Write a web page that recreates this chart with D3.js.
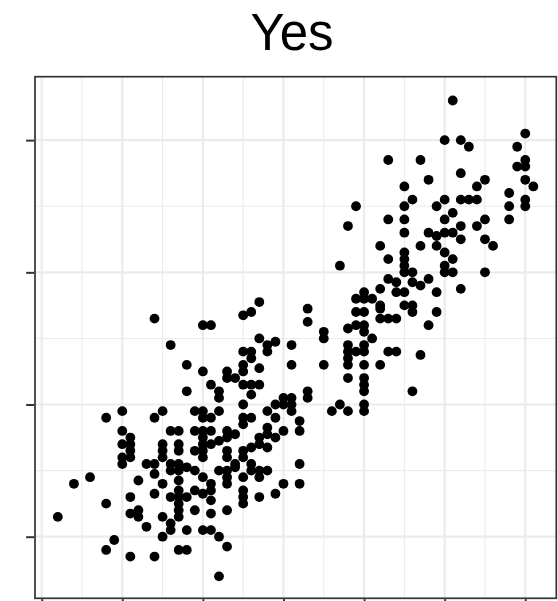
<!DOCTYPE html>
<html>
<head>
<meta charset="utf-8">
<script src="https://cdn.jsdelivr.net/npm/d3@7"></script>
<style>
  html, body { margin: 0; padding: 0; background: #ffffff; }
  svg { display: block; }
</style>
</head>
<body>
<div id="chart"></div>
<script>
// Facet panel title
const panelTitle = "Yes";

// Point coordinates (x, y pairs in the same order)
const xValues = [
  10,8,14,15,19,10,11,10,11,11, 10,11,10,13,14,14,12,15,4,6,
  8,2,11,14,11,12,12,13,15,15, 9,8,11,14,17,18,16,16,18,19,
  16,17,19,15,15,15,17,17,19,16, 17,18,16,17,19,17,17,19,16,17,
  18,17,17,17,
  20,22,28,31,20,21,25,26,25,29, 32,32,28,28,27,27,29,30,28,26,
  25,25,20,21,20,20,21,22,23,23, 24,20,20,23,23,22,23,23,23,24,
  24,26,26,27,28,27,25,32,30,32, 29,27,25,25,25,20,21,21,20,21,
  21,23,20,21,22,23,22,36,38,37, 40,40,
  14,20,21,25,26,27,33,33,16,27, 28,29,28,31,25,26,26,18,25,25,
  27,31,20,23,23,24,21,22,22,18, 25,26,27,26,25,29,30,31,31,33,
  33,30,35,35,35,
  45,48,49,42,47,49,43,45,45,45, 45,37,46,43,44,46,47,48,49,42,
  44,45,40,39,40,41,42,42,45,46, 46,39,40,42,43,44,48,49,38,39,
  40,40,41,38,38,39,40,40,43,44, 47,38,38,40,42,38,40,40,40,46,
  51,50,52,53,43,47,52,48,45,46, 50,52,53,54,39,45,49,51,38,43,
  45,50,52,50,51,52,60,59,60,59, 60,55,54,60,61,58,60,60,58,58,
  55,54,55,56,50,51,50,50,51,55, 52
];
const yValues = [
  19,18,18,19,19,16,15,14,14,13, 12,12,11,11,11,9.5,8.5,8,8,9,
  5,3,6,6.5,3.5,4,3,1.5,3,0, -0.5,-2,-3,-3,-2,-2,2,1,1,4,
  16,16,16,14,13,12,14,13,13,11, 11,10.5,10,10,10,8.5,7,7,6,6,
  6,5,4,3,
  19,19,19,19,18,18,18,18,17,18, 17.5,16,16.5,15.5,15,14,15,16,13.5,13.5,
  13,12,16,16,15,14,14,14.5,16,15, 15.5,13,12,13,12,10,10,9,8,10.5,
  11,11,10,10,10,9,9,11,8,8, 6.5,6,7,6,5,9,8,7,6.5,5.5,
  3.5,4,1,1,0,-1.5,-6,19,19,20, 20,19,
  33,32,32,33.5,34,35.5,34.5,32.5,29,30, 29,29.5,28,29,28,28,27,26,26,25,
  25.5,26,25,25,24,24,23,22,21,22, 23,23,23,21.5,20,20,21,21,20,22,
  21,20,31,30,26,
  46,46,45.5,44,44,44,42,43,42,41, 40,41,40,39,38.5,38.5,38,39,37,37.5,
  37,37,37,36,36,36,35,34.5,35,35, 34,34,34,33,33,33,32,34,31.5,32,
  32,31,30,29,28,28,29,28,28,28, 27.5,27,26,26,26,24,24,23,22,22,
  66,60,60,59,57,57,55,54,53,51, 51,51,51,51,50,50,50,49,47,48,
  48,48,47,46,46,45,61,59,57,56, 56,54,53,54,53,52,51,50,50,48,
  48,47,45,44,43,42,41,40,40,40, 37.5
];

// Axis breaks (tick labels are blank in this panel)
const xMajorTicks = [0, 10, 20, 30, 40, 50, 60];
const xMinorTicks = [5, 15, 25, 35, 45, 55];
const yMajorTicks = [0, 20, 40, 60];
const yMinorTicks = [10, 30, 50];

const points = xValues.map((x, i) => ({ x, y: yValues[i] }));

const width = 558, height = 601;
const panel = { left: 35, right: 556.3, top: 76.7, bottom: 598.3 };

const svg = d3.select("#chart").append("svg")
  .attr("width", width)
  .attr("height", height);

const x = d3.scaleLinear().domain([-0.83, 63.85]).range([panel.left, panel.right]);
const y = d3.scaleLinear().domain([-9.32, 69.6]).range([panel.bottom, panel.top]);

// Title
svg.append("text")
  .attr("x", 292)
  .attr("y", 50)
  .attr("text-anchor", "middle")
  .attr("font-family", "'Liberation Sans', Arial, Helvetica, sans-serif")
  .attr("font-size", 51)
  .attr("fill", "#000000")
  .text(panelTitle);

// Panel background
svg.append("rect")
  .attr("x", panel.left).attr("y", panel.top)
  .attr("width", panel.right - panel.left)
  .attr("height", panel.bottom - panel.top)
  .attr("fill", "#ffffff");

const grid = svg.append("g").attr("class", "grid");

// Minor grid lines
grid.selectAll("line.xminor").data(xMinorTicks).join("line")
  .attr("class", "xminor")
  .attr("x1", d => x(d)).attr("x2", d => x(d))
  .attr("y1", panel.top).attr("y2", panel.bottom)
  .attr("stroke", "#EBEBEB").attr("stroke-width", 1.1);
grid.selectAll("line.yminor").data(yMinorTicks).join("line")
  .attr("class", "yminor")
  .attr("y1", d => y(d)).attr("y2", d => y(d))
  .attr("x1", panel.left).attr("x2", panel.right)
  .attr("stroke", "#EBEBEB").attr("stroke-width", 1.1);

// Major grid lines
grid.selectAll("line.xmajor").data(xMajorTicks).join("line")
  .attr("class", "xmajor")
  .attr("x1", d => x(d)).attr("x2", d => x(d))
  .attr("y1", panel.top).attr("y2", panel.bottom)
  .attr("stroke", "#EBEBEB").attr("stroke-width", 2.2);
grid.selectAll("line.ymajor").data(yMajorTicks).join("line")
  .attr("class", "ymajor")
  .attr("y1", d => y(d)).attr("y2", d => y(d))
  .attr("x1", panel.left).attr("x2", panel.right)
  .attr("stroke", "#EBEBEB").attr("stroke-width", 2.2);

// Points
svg.append("g").attr("class", "points")
  .selectAll("circle").data(points).join("circle")
  .attr("cx", d => x(d.x))
  .attr("cy", d => y(d.y))
  .attr("r", 4.9)
  .attr("fill", "#000000");

// Panel border
svg.append("rect")
  .attr("x", panel.left).attr("y", panel.top)
  .attr("width", panel.right - panel.left)
  .attr("height", panel.bottom - panel.top)
  .attr("fill", "none")
  .attr("stroke", "#333333")
  .attr("stroke-width", 1.7);

// Axis ticks without labels
const yAxis = d3.axisLeft(y).tickValues(yMajorTicks).tickSize(8).tickSizeOuter(0).tickFormat("");
const xAxis = d3.axisBottom(x).tickValues(xMajorTicks).tickSize(8).tickSizeOuter(0).tickFormat("");

const gy = svg.append("g").attr("transform", `translate(${panel.left - 0.85},0)`).call(yAxis);
const gx = svg.append("g").attr("transform", `translate(0,${panel.bottom + 0.85})`).call(xAxis);
[gy, gx].forEach(g => {
  g.select(".domain").remove();
  g.selectAll(".tick line").attr("stroke", "#333333").attr("stroke-width", 2);
});
</script>
</body>
</html>
